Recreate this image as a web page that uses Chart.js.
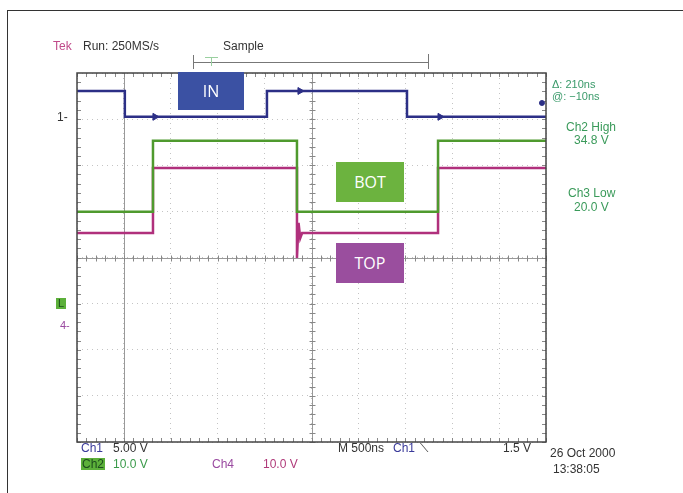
<!DOCTYPE html>
<html>
<head>
<meta charset="utf-8">
<script src="https://cdn.jsdelivr.net/npm/chart.js@4.4.0/dist/chart.umd.min.js"></script>
<style>
  body { margin: 0; background: #fff; font-family: "Liberation Sans", Arial, sans-serif; }
  #wrap { position: relative; width: 683px; height: 493px; overflow: hidden; }
  #frame { position: absolute; left: 7px; top: 10px; width: 700px; height: 500px;
           border-left: 1px solid #333; border-top: 1px solid #333; }
  canvas { position: absolute; left: 0; top: 0; }
  .t { position: absolute; white-space: nowrap; font-size: 12px; color: #333; line-height: 1; }
  .box { position: absolute; color: #fff; font-family: "Open Sans", sans-serif; font-size: 16px;
         display: flex; align-items: center; justify-content: center; }
</style>
</head>
<body>
<div id="wrap">
  <div id="frame"></div>
  <canvas id="c" width="683" height="493"></canvas>

  <!-- en-tete -->
  <div class="t" style="left:53px;top:40px;color:#c04a8a;">Tek</div>
  <div class="t" style="left:83px;top:40px;">Run: 250MS/s</div>
  <div class="t" style="left:223px;top:40px;">Sample</div>

  <!-- libelles -->
  <div class="box" style="left:178px;top:72px;width:66px;height:38px;background:#3b51a3;">IN</div>
  <div class="box" style="left:336px;top:162px;width:68px;height:40px;background:#6cb33f;">BOT</div>
  <div class="box" style="left:336px;top:243px;width:68px;height:40px;background:#9a4e9e;">TOP</div>

  <!-- lectures a droite -->
  <div class="t" style="left:552px;top:79px;color:#3a9a6a;font-size:11px;">Δ: 210ns</div>
  <div class="t" style="left:552px;top:91px;color:#3a9a6a;font-size:11px;">@: −10ns</div>
  <div class="t" style="left:566px;top:121px;color:#3a9a5a;">Ch2 High</div>
  <div class="t" style="left:574px;top:134px;color:#3a9a5a;">34.8 V</div>
  <div class="t" style="left:568px;top:187px;color:#3a9a5a;">Ch3 Low</div>
  <div class="t" style="left:574px;top:201px;color:#3a9a5a;">20.0 V</div>

  <!-- reperes a gauche -->
  <div class="t" style="left:57px;top:111px;color:#333;">1‑</div>
  <div class="t" style="left:56px;top:298px;background:#5cb03a;color:#1d4d1d;font-size:11px;padding:0 2px;">L</div>
  <div class="t" style="left:60px;top:320px;color:#9a4aa0;font-size:11px;">4‑</div>

  <!-- bas -->
  <div class="t" style="left:81px;top:442px;color:#3a3a9a;">Ch1</div>
  <div class="t" style="left:113px;top:442px;">5.00 V</div>
  <div class="t" style="left:338px;top:442px;">M 500ns</div>
  <div class="t" style="left:393px;top:442px;color:#3a3a9a;">Ch1</div>
  <div class="t" style="left:420px;top:442px;">⟍</div>
  <div class="t" style="left:503px;top:442px;">1.5 V</div>
  <div class="t" style="left:550px;top:447px;">26 Oct 2000</div>
  <div class="t" style="left:553px;top:463px;">13:38:05</div>
  <div class="t" style="left:81px;top:458px;background:#5cb03a;color:#1d4d1d;padding:0 1px;">Ch2</div>
  <div class="t" style="left:113px;top:458px;color:#3a9a4a;">10.0 V</div>
  <div class="t" style="left:212px;top:458px;color:#9a4aa0;">Ch4</div>
  <div class="t" style="left:263px;top:458px;color:#b03a7a;">10.0 V</div>
</div>

<script>
// temps en ns (500 ns / div), niveaux en divisions (0 = bas de l'ecran)
const inTimes  = [0, 510, 510, 2025, 2025, 3518, 3518, 5000];
const inLevels = [7.61, 7.61, 7.05, 7.05, 7.61, 7.61, 7.05, 7.05];

const botTimes  = [0, 810, 810, 2345, 2345, 3849, 3849, 5000];
const botLevels = [4.99, 4.99, 6.53, 6.53, 4.99, 4.99, 6.53, 6.53];

const topTimes  = [0, 810, 810, 2345, 2345, 2362, 2380, 2400, 3849, 3849, 5000];
const topLevels = [4.53, 4.53, 5.94, 5.94, 3.99, 4.75, 4.42, 4.53, 4.53, 5.94, 5.94];

// petites oscillations sur la voie 1 (+ point de declenchement)
const ringTimes  = [831, 2377, 3870, 4957];
const ringLevels = [7.05, 7.61, 7.05, 7.35];

const pts = (t, v) => t.map((x, i) => ({ x: x, y: v[i] }));

const scopeDecor = {
  id: 'scopeDecor',
  beforeDatasetsDraw(chart) {
    const { ctx, chartArea: a, scales: { x, y } } = chart;
    ctx.save();
    ctx.strokeStyle = '#999';
    ctx.lineWidth = 1;
    // axes centraux + curseur
    const cx = Math.round(x.getPixelForValue(2500)) + 0.5;
    const cy = Math.round(y.getPixelForValue(4)) + 0.5;
    const cur = Math.round(x.getPixelForValue(500)) + 0.5;
    ctx.beginPath();
    ctx.moveTo(cx, a.top); ctx.lineTo(cx, a.bottom);
    ctx.moveTo(a.left, cy); ctx.lineTo(a.right, cy);
    ctx.moveTo(cur, a.top); ctx.lineTo(cur, a.bottom);
    ctx.stroke();
    // graduations fines
    ctx.strokeStyle = '#888';
    ctx.beginPath();
    for (let t = 0; t <= 5000; t += 100) {
      const px = Math.round(x.getPixelForValue(t)) + 0.5;
      ctx.moveTo(px, cy - 3); ctx.lineTo(px, cy + 3);
      ctx.moveTo(px, a.top); ctx.lineTo(px, a.top + 4);
      ctx.moveTo(px, a.bottom); ctx.lineTo(px, a.bottom - 4);
    }
    for (let d = 0; d <= 8; d += 0.2) {
      const py = Math.round(y.getPixelForValue(d)) + 0.5;
      ctx.moveTo(cx - 3, py); ctx.lineTo(cx + 3, py);
      ctx.moveTo(a.left, py); ctx.lineTo(a.left + 4, py);
      ctx.moveTo(a.right, py); ctx.lineTo(a.right - 4, py);
    }
    ctx.stroke();
    // marque de declenchement en haut
    ctx.strokeStyle = '#777';
    ctx.beginPath();
    ctx.moveTo(193.5, 62.5); ctx.lineTo(428.5, 62.5);
    ctx.moveTo(193.5, 55); ctx.lineTo(193.5, 69);
    ctx.moveTo(428.5, 54); ctx.lineTo(428.5, 69);
    ctx.stroke();
    ctx.strokeStyle = '#9ad0a0';
    ctx.beginPath();
    ctx.moveTo(205, 57.5); ctx.lineTo(218, 57.5);
    ctx.moveTo(211.5, 57); ctx.lineTo(211.5, 66);
    ctx.stroke();
    ctx.restore();
  },
  afterDraw(chart) {
    const { ctx, chartArea: a } = chart;
    ctx.save();
    ctx.strokeStyle = '#444';
    ctx.lineWidth = 1.5;
    ctx.strokeRect(a.left, a.top, a.right - a.left, a.bottom - a.top);
    ctx.restore();
  }
};

const line = (label, data, color) => ({
  label: label, data: data, borderColor: color, borderWidth: 2.5,
  pointRadius: 0, tension: 0, fill: false
});

new Chart(document.getElementById('c'), {
  type: 'line',
  data: {
    datasets: [
      line('Ch2', pts(botTimes, botLevels), '#4f9a2e'),
      line('Ch3', pts(topTimes, topLevels), '#b0307c'),
      line('Ch1', pts(inTimes, inLevels), '#2c2f86'),
      {
        label: 'ring', data: pts(ringTimes, ringLevels), showLine: false,
        pointStyle: ['triangle', 'triangle', 'triangle', 'circle'],
        rotation: 90, pointRadius: [4, 4, 4, 2.5],
        backgroundColor: '#2c2f86', borderColor: '#2c2f86'
      }
    ]
  },
  options: {
    responsive: false,
    animation: false,
    layout: { padding: { left: 77, top: 73, right: 137, bottom: 51 } },
    plugins: { legend: { display: false }, tooltip: { enabled: false } },
    scales: {
      x: {
        type: 'linear', min: 0, max: 5000,
        ticks: { display: false, stepSize: 500 },
        grid: { color: '#c4c4c4', drawTicks: false },
        border: { display: false, dash: [1, 4] }
      },
      y: {
        type: 'linear', min: 0, max: 8,
        ticks: { display: false, stepSize: 1 },
        grid: { color: '#c4c4c4', drawTicks: false },
        border: { display: false, dash: [1, 4] }
      }
    }
  },
  plugins: [scopeDecor]
});
</script>
</body>
</html>
